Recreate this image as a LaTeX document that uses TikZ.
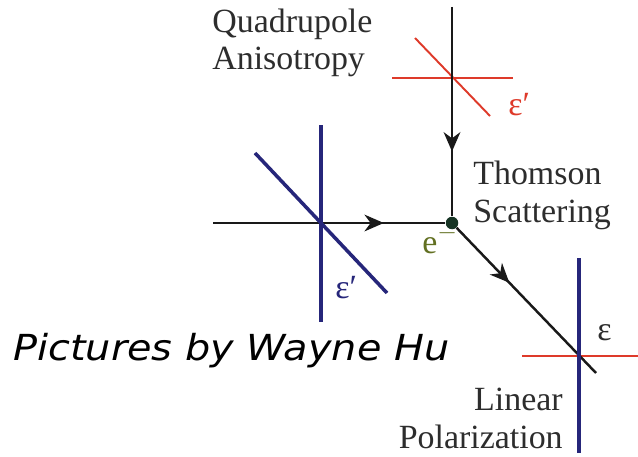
\documentclass[tikz,border=0pt]{standalone}
\usepackage{fontspec}
\setmainfont{Liberation Serif}
\newfontfamily\handfont{DejaVu Sans}
\usepackage{graphicx}
\usetikzlibrary{arrows.meta,decorations.markings}
\definecolor{polred}{RGB}{222,58,42}
\definecolor{polblue}{RGB}{38,38,122}
\definecolor{elecgreen}{RGB}{98,112,34}
\definecolor{dotgreen}{RGB}{22,52,36}
\definecolor{txtgray}{RGB}{45,45,45}

\begin{document}
\begin{tikzpicture}[x=0.02cm, y=-0.02cm, >=Stealth,
  lbl/.style={inner sep=0pt, text=txtgray, font=\fontsize{19.3}{21.3}\selectfont},
  eps/.style={inner sep=0pt, anchor=base west, font=\fontsize{19.3}{21.3}\selectfont},
  ray/.style={line width=1.4pt, black!90, postaction={decorate},
    decoration={markings, mark=at position #1 with {\arrow{Stealth[length=11pt, width=9.5pt, inset=3.5pt]}}}},
  redpol/.style={polred, line width=1.1pt},
  bluepol/.style={polblue, line width=2pt}]
  \useasboundingbox (0,0) rectangle (638,456);
  \coordinate (qtop) at (452,7);
  \coordinate (src) at (213,223);
  \coordinate (out) at (596,373);
  \node[circle, fill=dotgreen, inner sep=0pt, minimum size=0.25cm] (e) at (452,223) {};
  % polarization crosses (red under the rays)
  \draw[redpol] (392,78) -- (513,78);
  \draw[redpol] (415,38) -- (490,116);
  \draw[redpol] (522,356) -- (638,356);
  % photon paths
  \draw[ray=0.69] (qtop) -- (e);
  \draw[ray=0.735] (src) -- (e);
  \draw[ray=0.38] (e) -- (out);
  \draw[bluepol] (321,125) -- (321,322);
  \draw[bluepol] (255,153) -- (387,293);
  \draw[bluepol] (579,258) -- (579,453);
  % labels
  \node[lbl, align=left, anchor=base west] (quad) at (212,70) {Quadrupole\\Anisotropy};
  \node[lbl, align=left, anchor=base west] (thom) at (473,222) {Thomson\\Scattering};
  \node[lbl, align=right, anchor=base east] (lin) at (563,448) {Linear\\Polarization};
  \node[eps, text=polred] (epsq) at (508,115) {ε′};
  \node[eps, text=polblue] (epsi) at (335,298) {ε′};
  \node[eps, text=txtgray] (epso) at (597,340) {ε};
  \node[eps, text=elecgreen] (elab) at (422,253) {e$^-$};
  \node[inner sep=0pt, anchor=base west] (credit) at (13,360)
    {\scalebox{1.11}[1]{\handfont\itshape\fontsize{20.4}{24}\selectfont Pictures by Wayne Hu}};
\end{tikzpicture}
\end{document}
